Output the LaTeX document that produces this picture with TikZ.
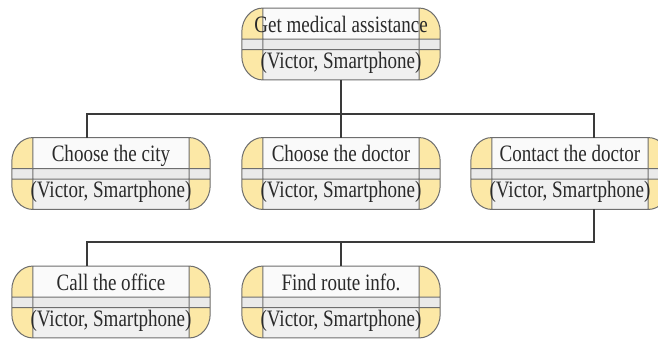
\documentclass[tikz,border=0pt]{standalone}
\usepackage{fontspec}
\usepackage{graphicx}
\setmainfont{Liberation Serif}
\usetikzlibrary{calc}

\definecolor{capyellow}{HTML}{FCE8A6}
\definecolor{labelwhite}{HTML}{FAFAFA}
\definecolor{rolegrey}{HTML}{F0F0F0}
\definecolor{stripgrey}{HTML}{EAEAEA}
\definecolor{edgegrey}{HTML}{6E6E6E}
\definecolor{linkgrey}{HTML}{3A3A3A}
\definecolor{inkgrey}{HTML}{2A2A2A}

\tikzset{
  boxframe/.style={rectangle, minimum width=198pt, minimum height=71.5pt, inner sep=0pt},
  boxedge/.style={draw=edgegrey, line width=1pt},
  boxtext/.style={anchor=base, inner sep=0pt, text=inkgrey,
    font=\fontsize{23.5}{28}\selectfont},
  link/.style={draw=linkgrey, line width=1.1pt},
}

% outline of a task box: straight top and bottom, elliptical ends
\newcommand\boxoutline{%
  (\x1+21pt,\y1) -- (\x2-21pt,\y1)
    arc[start angle=90, end angle=0, x radius=21pt, y radius=24pt]
    -- (\x2,\y2+24pt)
    arc[start angle=0, end angle=-90, x radius=21pt, y radius=24pt]
    -- (\x1+21pt,\y2)
    arc[start angle=270, end angle=180, x radius=21pt, y radius=24pt]
    -- (\x1,\y1-24pt)
    arc[start angle=180, end angle=90, x radius=21pt, y radius=24pt]
    -- cycle}

% one task box: #1 name, #2 centre, #3 task label
\newcommand\taskbox[3]{%
  \node[boxframe] (#1) at (#2) {};
  \fill[capyellow] let \p1=(#1.north west), \p2=(#1.south east) in \boxoutline;
  \fill[labelwhite] let \p1=(#1.north west), \p2=(#1.south east) in
    (\x1+21pt,\y1) rectangle (\x2-21pt,\y1-31pt);
  \fill[rolegrey] let \p1=(#1.north west), \p2=(#1.south east) in
    (\x1+21pt,\y1-41.5pt) rectangle (\x2-21pt,\y2);
  \fill[stripgrey] let \p1=(#1.north west), \p2=(#1.south east) in
    (\x1,\y1-31pt) rectangle (\x2,\y1-41.5pt);
  \draw[boxedge] let \p1=(#1.north west), \p2=(#1.south east) in
    (\x1+21pt,\y1) -- (\x1+21pt,\y2)
    (\x2-21pt,\y1) -- (\x2-21pt,\y2)
    (\x1,\y1-31pt) -- (\x2,\y1-31pt)
    (\x1,\y1-41.5pt) -- (\x2,\y1-41.5pt)
    \boxoutline;
  \node[boxtext] (#1-task) at ($(#1.north)+(0,-24pt)$) {\scalebox{0.81}[1]{#3}};
  \node[boxtext] (#1-role) at ($(#1.north)+(0,-60pt)$) {\scalebox{0.81}[1]{(Victor, Smartphone)}};
}

\begin{document}
\begin{tikzpicture}[x=1pt, y=1pt]
  \useasboundingbox (0,0) rectangle (658,-338);
  \fill[white] (0,0) rectangle (658,-338);

  % junction points of the two connector buses
  \coordinate (bus1) at (341,-114);
  \coordinate (bus2) at (341,-242);

  \taskbox{assist}{341,-44}{Get medical assistance}
  \taskbox{city}{111,-173.5}{Choose the city}
  \taskbox{doctor}{341,-173.5}{Choose the doctor}
  \taskbox{contact}{570,-173.5}{Contact the doctor}
  \taskbox{office}{111,-302}{Call the office}
  \taskbox{route}{341,-302}{Find route info.}

  % first level
  \draw[link] (assist.south) -- (doctor.north);
  \draw[link] ($(city.north)+(-24pt,0)$) |- (bus1) -| ($(contact.north)+(24pt,0)$);

  % second level
  \draw[link] ($(contact.south)+(24pt,0)$) |- (bus2) -| ($(office.north)+(-24pt,0)$);
  \draw[link] (route.north |- bus2) -- (route.north);
\end{tikzpicture}
\end{document}
